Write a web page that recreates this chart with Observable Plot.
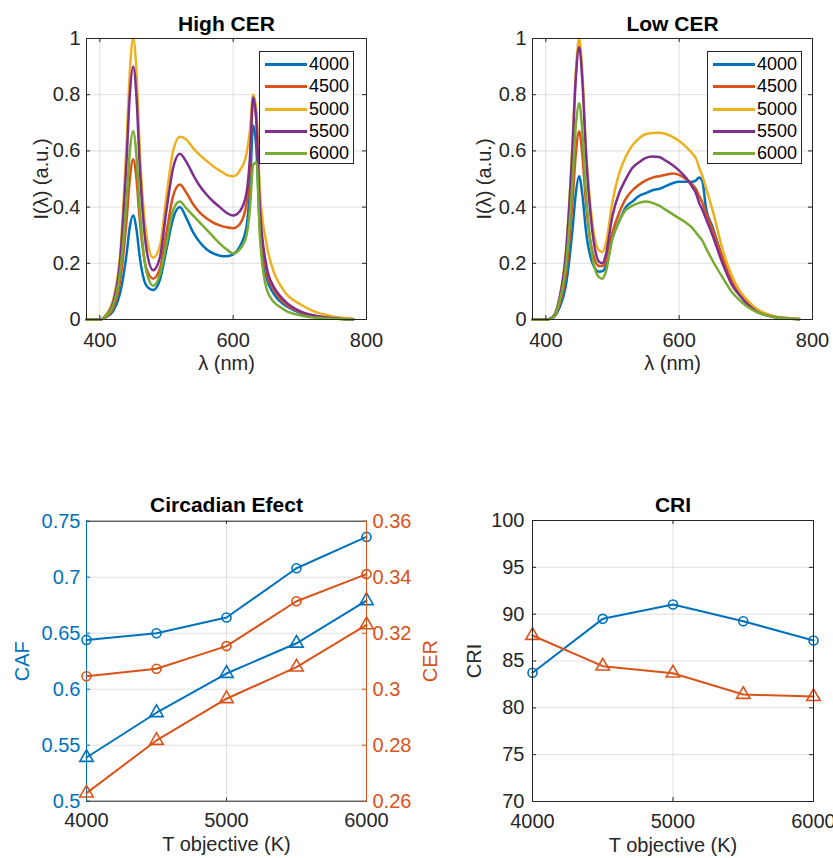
<!DOCTYPE html>
<html><head><meta charset="utf-8">
<script src="https://cdn.jsdelivr.net/npm/d3@7"></script>
<script src="https://cdn.jsdelivr.net/npm/@observablehq/plot@0.6"></script>
<style>
body{margin:0;background:#fff;}
#root{position:relative;width:833px;height:858px;overflow:hidden;font-family:"Liberation Sans",Arial,sans-serif;background:#fff;}
.panel{position:absolute;}
.legend{position:absolute;border:1px solid #262626;background:#fff;box-sizing:border-box;font-size:18px;color:#000;}
.legend .row{position:absolute;left:0;height:22px;width:100%;}
.legend .sw{position:absolute;left:5px;width:42px;top:10px;height:0;border-top:3px solid;}
.legend .lb{position:absolute;left:49px;top:1px;line-height:20px;}
</style></head>
<body><div id="root"></div>
<script>
// ---------- data ----------
const seriesNames = ["4000","4500","5000","5500","6000"];
const seriesColors = ["#0072BD","#D95319","#EDB120","#7E2F8E","#77AC30"];
const lambdaTicks = [400, 600, 800];
const intensityTicks = [0, 0.2, 0.4, 0.6, 0.8, 1];

const lambdaHigh = [380,400,410,420,430,440,445,450,455,460,470,480,490,500,510,520,530,540,550,560,570,580,590,600,610,620,625,630,635,640,650,660,670,680,700,720,740,760,780];
const high4000 = [0,0,0.01,0.03,0.09,0.23,0.33,0.37,0.32,0.22,0.12,0.105,0.14,0.25,0.36,0.40,0.36,0.31,0.275,0.25,0.235,0.227,0.225,0.232,0.26,0.33,0.46,0.69,0.60,0.33,0.15,0.095,0.065,0.047,0.024,0.012,0.006,0.003,0.001];
const high4500 = [0,0,0.01,0.04,0.13,0.35,0.50,0.57,0.50,0.35,0.18,0.145,0.18,0.31,0.44,0.48,0.45,0.41,0.38,0.36,0.345,0.335,0.328,0.325,0.34,0.41,0.54,0.79,0.70,0.38,0.17,0.11,0.075,0.053,0.027,0.014,0.007,0.003,0.001];
const high5000 = [0,0,0.02,0.07,0.22,0.62,0.88,1.0,0.88,0.60,0.30,0.22,0.26,0.44,0.60,0.65,0.64,0.61,0.585,0.565,0.545,0.53,0.515,0.51,0.53,0.59,0.67,0.80,0.74,0.46,0.27,0.175,0.125,0.09,0.055,0.03,0.016,0.007,0.003];
const high5500 = [0,0,0.015,0.06,0.2,0.56,0.80,0.90,0.79,0.54,0.25,0.175,0.22,0.39,0.54,0.59,0.56,0.515,0.475,0.445,0.42,0.40,0.38,0.37,0.385,0.45,0.57,0.79,0.70,0.40,0.19,0.12,0.085,0.06,0.03,0.015,0.007,0.003,0.001];
const high6000 = [0,0,0.015,0.05,0.16,0.42,0.60,0.67,0.58,0.39,0.17,0.12,0.16,0.27,0.39,0.42,0.395,0.37,0.345,0.32,0.295,0.27,0.25,0.235,0.25,0.30,0.39,0.55,0.56,0.30,0.11,0.065,0.045,0.03,0.015,0.007,0.004,0.002,0.001];

const lambdaLow = [380,400,410,420,430,440,445,450,455,460,470,480,485,490,500,510,520,530,540,550,560,570,580,590,600,610,620,625,630,635,640,650,665,680,690,700,715,740,760,780];
const low4000 = [0,0,0.005,0.04,0.12,0.32,0.45,0.51,0.44,0.32,0.20,0.17,0.172,0.19,0.29,0.35,0.40,0.42,0.44,0.45,0.46,0.465,0.475,0.485,0.49,0.49,0.49,0.495,0.505,0.49,0.40,0.33,0.22,0.13,0.095,0.065,0.035,0.012,0.005,0.002];
const low4500 = [0,0,0.006,0.05,0.16,0.42,0.59,0.67,0.58,0.42,0.24,0.19,0.19,0.21,0.31,0.38,0.43,0.46,0.48,0.495,0.505,0.51,0.515,0.52,0.515,0.50,0.48,0.465,0.44,0.415,0.38,0.32,0.22,0.135,0.095,0.066,0.035,0.012,0.005,0.002];
const low5000 = [0,0,0.008,0.07,0.24,0.63,0.88,1.0,0.87,0.62,0.34,0.245,0.24,0.27,0.42,0.52,0.58,0.62,0.645,0.66,0.664,0.665,0.66,0.65,0.635,0.615,0.59,0.575,0.54,0.51,0.47,0.39,0.25,0.15,0.105,0.075,0.04,0.013,0.005,0.002];
const low5500 = [0,0,0.008,0.07,0.23,0.61,0.86,0.97,0.84,0.60,0.31,0.205,0.20,0.23,0.37,0.45,0.50,0.54,0.56,0.575,0.58,0.578,0.565,0.55,0.53,0.505,0.47,0.45,0.415,0.39,0.36,0.30,0.20,0.12,0.088,0.06,0.03,0.01,0.004,0.001];
const low6000 = [0,0,0.006,0.06,0.19,0.49,0.69,0.77,0.66,0.46,0.22,0.15,0.145,0.17,0.29,0.35,0.39,0.405,0.415,0.42,0.415,0.405,0.39,0.375,0.36,0.345,0.325,0.31,0.295,0.28,0.255,0.21,0.15,0.095,0.07,0.05,0.028,0.01,0.004,0.001];

const tObjective = [4000, 4500, 5000, 5500, 6000];
const tTicks = [4000, 5000, 6000];
const cafCircle = [0.644, 0.650, 0.664, 0.708, 0.736];
const cafTriangle = [0.539, 0.579, 0.614, 0.641, 0.679];
const cerCircle = [0.3046, 0.3073, 0.3154, 0.3314, 0.3411];
const cerTriangle = [0.2629, 0.2817, 0.2966, 0.3079, 0.3230];
const cafTicks = [0.5, 0.55, 0.6, 0.65, 0.7, 0.75];
const cerTicks = [0.26, 0.28, 0.3, 0.32, 0.34, 0.36];
const criCircle = [83.74, 89.5, 91.03, 89.25, 87.19];
const criTriangle = [87.72, 84.45, 83.7, 81.42, 81.2];
const criTicks = [70, 75, 80, 85, 90, 95, 100];

// ---------- helpers ----------
const FONT = '"Liberation Sans", Arial, sans-serif';
const AX = "#262626";
const BLUE = "#0072BD", ORANGE = "#D95319";
const root = document.getElementById("root");

function place(svg, left, top, w, h) {
  const d = document.createElement("div");
  d.className = "panel";
  Object.assign(d.style, {left: left + "px", top: top + "px", width: w + "px", height: h + "px"});
  d.appendChild(svg);
  root.appendChild(d);
}
function tidy(lams, arrays) {
  const out = [];
  arrays.forEach((arr, k) => arr.forEach((v, i) => out.push({lambda: lams[i], value: v, series: seriesNames[k]})));
  return out;
}
function pts(xs, ys, key) { return xs.map((x, i) => ({x, y: ys[i], key})); }
function legend(left, top) {
  const L = document.createElement("div");
  L.className = "legend";
  Object.assign(L.style, {left: left + "px", top: top + "px", width: "95px", height: "113px"});
  seriesNames.forEach((s, i) => {
    const r = document.createElement("div");
    r.className = "row";
    r.style.top = (1 + i * 22.25) + "px";
    r.innerHTML = `<span class="sw" style="border-color:${seriesColors[i]}"></span><span class="lb">${s}</span>`;
    L.appendChild(r);
  });
  root.appendChild(L);
}
function innerTicks(xt, yt, fw, fh, color) {
  return [
    Plot.tickX(xt, {x: d => d, insetTop: fh - 4, stroke: color}),
    Plot.tickX(xt, {x: d => d, insetBottom: fh - 4, stroke: color}),
    Plot.tickY(yt, {y: d => d, insetRight: fw - 4, stroke: color}),
    Plot.tickY(yt, {y: d => d, insetLeft: fw - 4, stroke: color})
  ];
}
function title(t, dy) {
  return Plot.text([t], {text: d => d, frameAnchor: "top", lineAnchor: "bottom", dy, fontWeight: "bold", fontSize: 21, fill: "#000"});
}

// ---------- spectra ----------
function spectrum(data, ttl, ml, mr, w, labelOffset) {
  const fw = w - ml - mr, fh = 281;
  return Plot.plot({
    width: w, height: 380, marginLeft: ml, marginRight: mr, marginTop: 38, marginBottom: 61,
    style: {fontFamily: FONT, fontSize: "20px", color: AX, background: "transparent"},
    x: {domain: [380, 800]},
    y: {domain: [0, 1]},
    color: {domain: seriesNames, range: seriesColors},
    marks: [
      Plot.gridX(lambdaTicks, {stroke: "#000", strokeOpacity: 0.13}),
      Plot.gridY(intensityTicks, {stroke: "#000", strokeOpacity: 0.13}),
      Plot.axisX({ticks: lambdaTicks, tickFormat: String, tickSize: 0, tickPadding: 13, label: "λ (nm)", labelAnchor: "center", labelArrow: "none", labelOffset: 50, fill: AX}),
      Plot.axisY({ticks: intensityTicks, tickFormat: String, tickSize: 0, tickPadding: 6, label: "I(λ) (a.u.)", labelAnchor: "center", labelArrow: "none", labelOffset, fill: AX}),
      Plot.line(data, {x: "lambda", y: "value", stroke: "series", z: "series", strokeWidth: 2.5, curve: "monotone-x"}),
      ...innerTicks(lambdaTicks, intensityTicks, fw, fh, AX),
      Plot.frame({stroke: AX}),
      title(ttl, -8)
    ]
  });
}
place(spectrum(tidy(lambdaHigh, [high4000, high4500, high5000, high5500, high6000]), "High CER", 86, 54, 420, 53), 0, 0, 420, 380);
place(spectrum(tidy(lambdaLow, [low4000, low4500, low5000, low5500, low6000]), "Low CER", 112, 21, 413, 56), 420, 0, 413, 380);
legend(259, 51);
legend(707, 51);

// ---------- circadian (dual axis, two overlaid plots sharing the frame) ----------
const cafData = [...pts(tObjective, cafCircle, "c"), ...pts(tObjective, cafTriangle, "t")];
const cerData = [...pts(tObjective, cerCircle, "c"), ...pts(tObjective, cerTriangle, "t")];
const common = {width: 440, height: 380, marginLeft: 86, marginRight: 74, marginTop: 40.7, marginBottom: 59.3,
  style: {fontFamily: FONT, fontSize: "20px", color: AX, background: "transparent"}};
const cafPlot = Plot.plot({
  ...common,
  x: {domain: [4000, 6000]},
  y: {domain: [0.5, 0.75]},
  marks: [
    Plot.gridX(tTicks, {stroke: "#000", strokeOpacity: 0.13}),
    Plot.gridY(cafTicks, {stroke: "#000", strokeOpacity: 0.13}),
    Plot.axisX({ticks: tTicks, tickFormat: String, tickSize: 0, tickPadding: 12, label: "T objective (K)", labelAnchor: "center", labelArrow: "none", labelOffset: 50, fill: AX}),
    Plot.axisY({ticks: cafTicks, tickFormat: String, tickSize: 0, tickPadding: 6, label: "CAF", labelAnchor: "center", labelArrow: "none", labelOffset: 72, fill: BLUE}),
    Plot.line(cafData, {x: "x", y: "y", z: "key", stroke: BLUE, strokeWidth: 2}),
    Plot.dot(cafData.filter(d => d.key === "c"), {x: "x", y: "y", stroke: BLUE, fill: "none", r: 4.5, strokeWidth: 1.6}),
    Plot.dot(cafData.filter(d => d.key === "t"), {x: "x", y: "y", symbol: "triangle", stroke: BLUE, fill: "none", r: 5, strokeWidth: 1.6}),
    Plot.tickX(tTicks, {x: d => d, insetTop: 277, stroke: AX}),
    Plot.tickX(tTicks, {x: d => d, insetBottom: 277, stroke: AX}),
    Plot.tickY(cafTicks, {y: d => d, insetRight: 276, stroke: BLUE}),
    Plot.frame({stroke: AX}),
    Plot.ruleX([4000], {stroke: BLUE}),
    title("Circadian Efect", -9)
  ]
});
place(cafPlot, 0, 480, 440, 380);
const cerPlot = Plot.plot({
  ...common,
  x: {domain: [4000, 6000], axis: null},
  y: {domain: [0.26, 0.36]},
  marks: [
    Plot.axisY({anchor: "right", ticks: cerTicks, tickFormat: String, tickSize: 0, tickPadding: 6, label: "CER", labelAnchor: "center", labelArrow: "none", labelOffset: 70, fill: ORANGE}),
    Plot.line(cerData, {x: "x", y: "y", z: "key", stroke: ORANGE, strokeWidth: 2}),
    Plot.dot(cerData.filter(d => d.key === "c"), {x: "x", y: "y", stroke: ORANGE, fill: "none", r: 4.5, strokeWidth: 1.6}),
    Plot.dot(cerData.filter(d => d.key === "t"), {x: "x", y: "y", symbol: "triangle", stroke: ORANGE, fill: "none", r: 5, strokeWidth: 1.6}),
    Plot.tickY(cerTicks, {y: d => d, insetLeft: 276, stroke: ORANGE}),
    Plot.ruleX([6000], {stroke: ORANGE})
  ]
});
place(cerPlot, 0, 480, 440, 380);

// ---------- CRI ----------
const criData = [...pts(tObjective, criCircle, "c"), ...pts(tObjective, criTriangle, "t")];
const criPlot = Plot.plot({
  width: 413, height: 378, marginLeft: 112, marginRight: 20, marginTop: 40, marginBottom: 57,
  style: {fontFamily: FONT, fontSize: "20px", color: AX, background: "transparent"},
  x: {domain: [4000, 6000]},
  y: {domain: [70, 100]},
  marks: [
    Plot.gridX(tTicks, {stroke: "#000", strokeOpacity: 0.13}),
    Plot.gridY(criTicks, {stroke: "#000", strokeOpacity: 0.13}),
    Plot.axisX({ticks: tTicks, tickFormat: String, tickSize: 0, tickPadding: 12, label: "T objective (K)", labelAnchor: "center", labelArrow: "none", labelOffset: 50, fill: AX}),
    Plot.axisY({ticks: criTicks, tickFormat: String, tickSize: 0, tickPadding: 8, label: "CRI", labelAnchor: "center", labelArrow: "none", labelOffset: 66, fill: AX}),
    Plot.line(criData, {x: "x", y: "y", z: "key", stroke: d => d.key === "c" ? BLUE : ORANGE, strokeWidth: 2}),
    Plot.dot(criData.filter(d => d.key === "c"), {x: "x", y: "y", stroke: BLUE, fill: "none", r: 4.5, strokeWidth: 1.6}),
    Plot.dot(criData.filter(d => d.key === "t"), {x: "x", y: "y", symbol: "triangle", stroke: ORANGE, fill: "none", r: 5, strokeWidth: 1.6}),
    ...innerTicks(tTicks, criTicks, 281, 281, AX),
    Plot.frame({stroke: AX}),
    title("CRI", -9)
  ]
});
place(criPlot, 420, 480, 413, 378);
</script>
</body></html>
